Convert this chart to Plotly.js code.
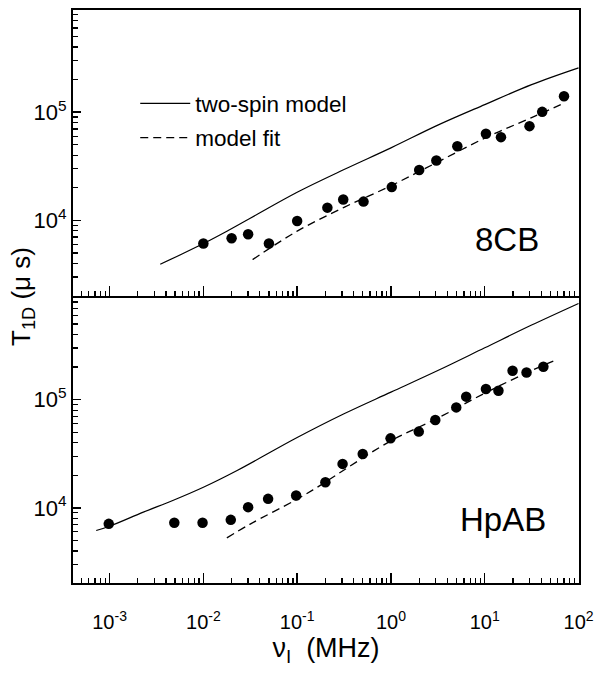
<!DOCTYPE html>
<html>
<head>
<meta charset="utf-8">
<script src="https://cdn.plot.ly/plotly-3.0.1.min.js"></script>
<style>
html,body{margin:0;padding:0;background:#fff;}
#chart{width:603px;height:674px;}
</style>
</head>
<body>
<div id="chart"></div>
<script>
// ---- 8CB (top panel) ----
var cb8PointsX = [0.01, 0.02, 0.03, 0.05, 0.1, 0.21, 0.31, 0.51, 1.02, 2.0, 3.05, 5.1, 10.3, 14.9, 30, 41, 70];
var cb8PointsY = [6100, 6820, 7430, 6100, 9860, 13100, 15600, 14900, 20300, 29200, 35800, 48500, 63100, 58800, 74300, 100700, 140600];
var cb8TwoSpinX = [0.00347, 0.0063, 0.01, 0.0178, 0.0316, 0.1, 0.316, 1, 3.16, 10, 31.6, 100];
var cb8TwoSpinY = [3930, 5010, 6100, 7940, 10470, 18200, 29500, 46800, 75900, 117500, 179900, 257000];
var cb8FitX = [0.0335, 0.1, 0.316, 1, 3.16, 10, 31.6, 64.6];
var cb8FitY = [4335, 7940, 13180, 20890, 34670, 57540, 89130, 117500];

// ---- HpAB (bottom panel) ----
var hpPointsX = [0.00098, 0.0049, 0.0098, 0.0196, 0.030, 0.049, 0.0975, 0.20, 0.305, 0.50, 0.99, 1.98, 2.97, 4.97, 6.34, 10.3, 14.0, 19.8, 27.9, 42.2];
var hpPointsY = [7110, 7280, 7280, 7740, 10150, 12110, 13000, 17260, 25500, 31500, 43900, 50700, 64900, 84900, 106700, 125400, 121000, 185000, 178600, 201800];
var hpTwoSpinX = [0.00072, 0.001, 0.00229, 0.00479, 0.01, 0.0229, 0.1, 0.316, 1, 3.16, 10, 31.6, 100];
var hpTwoSpinY = [6170, 6760, 9120, 11750, 15490, 22130, 44670, 74130, 117500, 186200, 302000, 489800, 776200];
var hpFitX = [0.0178, 0.0316, 0.1, 0.178, 0.316, 1, 3.16, 10, 31.6, 60.3];
var hpFitY = [5280, 7080, 12020, 16220, 22390, 41690, 67610, 114800, 186200, 237100];

// ---- tick labels ----
var xTickVals = [0.001, 0.01, 0.1, 1, 10, 100];
var xTickText = ['10<sup>-3</sup>', '10<sup>-2</sup>', '10<sup>-1</sup>', '10<sup>0</sup>', '10<sup>1</sup>', '10<sup>2</sup>'];
var xMinorVals = [0.0005, 0.0006, 0.0007, 0.0008, 0.0009,
  0.002, 0.003, 0.004, 0.005, 0.006, 0.007, 0.008, 0.009,
  0.02, 0.03, 0.04, 0.05, 0.06, 0.07, 0.08, 0.09,
  0.2, 0.3, 0.4, 0.5, 0.6, 0.7, 0.8, 0.9,
  2, 3, 4, 5, 6, 7, 8, 9,
  20, 30, 40, 50, 60, 70, 80, 90];
var yTickVals = [10000, 100000];
var yTickText = ['10<sup>4</sup>', '10<sup>5</sup>'];
var yMinorVals = [3000, 4000, 5000, 6000, 7000, 8000, 9000,
  20000, 30000, 40000, 50000, 60000, 70000, 80000, 90000,
  200000, 300000, 400000, 500000, 600000, 700000, 800000, 900000];

var legendNames = ['two-spin model', 'model fit'];
var panelLabels = ['8CB', 'HpAB'];
var xTitle = '\u03BD<sub>I</sub>\u00A0\u00A0(MHz)';
var yTitle = 'T<sub>1D</sub> (\u03BC s)';

var FONT = 'Liberation Sans, Arial, Helvetica, sans-serif';

var traces = [
  {x: cb8TwoSpinX, y: cb8TwoSpinY, xaxis: 'x', yaxis: 'y', mode: 'lines', name: legendNames[0],
   legendgroup: 'a', line: {color: 'black', width: 1.2, shape: 'spline'}},
  {x: cb8FitX, y: cb8FitY, xaxis: 'x', yaxis: 'y', mode: 'lines', name: legendNames[1],
   legendgroup: 'b', line: {color: 'black', width: 1.3, dash: '8px,5px', shape: 'spline'}},
  {x: cb8PointsX, y: cb8PointsY, xaxis: 'x', yaxis: 'y', mode: 'markers', showlegend: false,
   marker: {color: 'black', size: 10.5}},
  {x: hpTwoSpinX, y: hpTwoSpinY, xaxis: 'x2', yaxis: 'y2', mode: 'lines', showlegend: false,
   line: {color: 'black', width: 1.2, shape: 'spline'}},
  {x: hpFitX, y: hpFitY, xaxis: 'x2', yaxis: 'y2', mode: 'lines', showlegend: false,
   line: {color: 'black', width: 1.3, dash: '8px,5px', shape: 'spline'}},
  {x: hpPointsX, y: hpPointsY, xaxis: 'x2', yaxis: 'y2', mode: 'markers', showlegend: false,
   marker: {color: 'black', size: 10.5}}
];

var H = 573; // plot-area height in px
var half = 1 / H;

function xAxis(anchor, labels) {
  return {
    type: 'log', range: [-3.39, 2.005], domain: [0, 1], anchor: anchor,
    showline: true, linecolor: 'black', linewidth: 2, mirror: true,
    showgrid: false, zeroline: false,
    tickmode: 'array', tickvals: xTickVals, ticktext: xTickText,
    showticklabels: labels, ticklabelstandoff: 20,
    ticks: 'inside', ticklen: 10, tickwidth: 1.5, tickcolor: 'black',
    tickfont: {family: FONT, size: 20, color: 'black'},
    minor: {tickmode: 'array', tickvals: xMinorVals, ticks: 'inside', ticklen: 5, tickwidth: 1.3, tickcolor: 'black', showgrid: false}
  };
}
function yAxis(anchor, domain) {
  return {
    type: 'log', range: [3.305, 5.945], domain: domain, anchor: anchor,
    showline: true, linecolor: 'black', linewidth: 2, mirror: true,
    showgrid: false, zeroline: false,
    tickmode: 'array', tickvals: yTickVals, ticktext: yTickText,
    ticks: 'inside', ticklen: 8, tickwidth: 1.5, tickcolor: 'black',
    tickfont: {family: FONT, size: 22, color: 'black'},
    minor: {tickmode: 'array', tickvals: yMinorVals, ticks: 'inside', ticklen: 5, tickwidth: 1.3, tickcolor: 'black', showgrid: false}
  };
}

var xa2 = xAxis('y2', true);
xa2.title = {text: xTitle, font: {family: FONT, size: 27, color: 'black'}, standoff: 4};

var layout = {
  width: 603, height: 674,
  margin: {l: 73, r: 24, t: 10, b: 91, pad: 0},
  paper_bgcolor: 'white', plot_bgcolor: 'white',
  font: {family: FONT, color: 'black'},
  showlegend: true,
  legend: {x: 0.123, y: 0.874, xanchor: 'left', yanchor: 'top', bgcolor: 'rgba(0,0,0,0)',
           font: {family: FONT, size: 22.5, color: 'black'}, traceorder: 'grouped', tracegroupgap: 2, itemwidth: 50},
  xaxis: xAxis('y', false),
  yaxis: yAxis('x', [0.5 + half, 1]),
  xaxis2: xa2,
  yaxis2: yAxis('x2', [0, 0.5 - half]),
  annotations: [
    {text: panelLabels[0], xref: 'paper', yref: 'paper', x: 0.857, y: 0.599, xanchor: 'center', yanchor: 'middle',
     showarrow: false, font: {family: FONT, size: 33, color: 'black'}},
    {text: panelLabels[1], xref: 'paper', yref: 'paper', x: 0.849, y: 0.110, xanchor: 'center', yanchor: 'middle',
     showarrow: false, font: {family: FONT, size: 33, color: 'black'}},
    {text: yTitle, xref: 'paper', yref: 'paper', x: -0.1, y: 0.5, xanchor: 'center', yanchor: 'middle',
     textangle: -90, showarrow: false, font: {family: FONT, size: 26, color: 'black'}}
  ]
};

Plotly.newPlot('chart', traces, layout, {displayModeBar: false, staticPlot: true});
</script>
</body>
</html>
